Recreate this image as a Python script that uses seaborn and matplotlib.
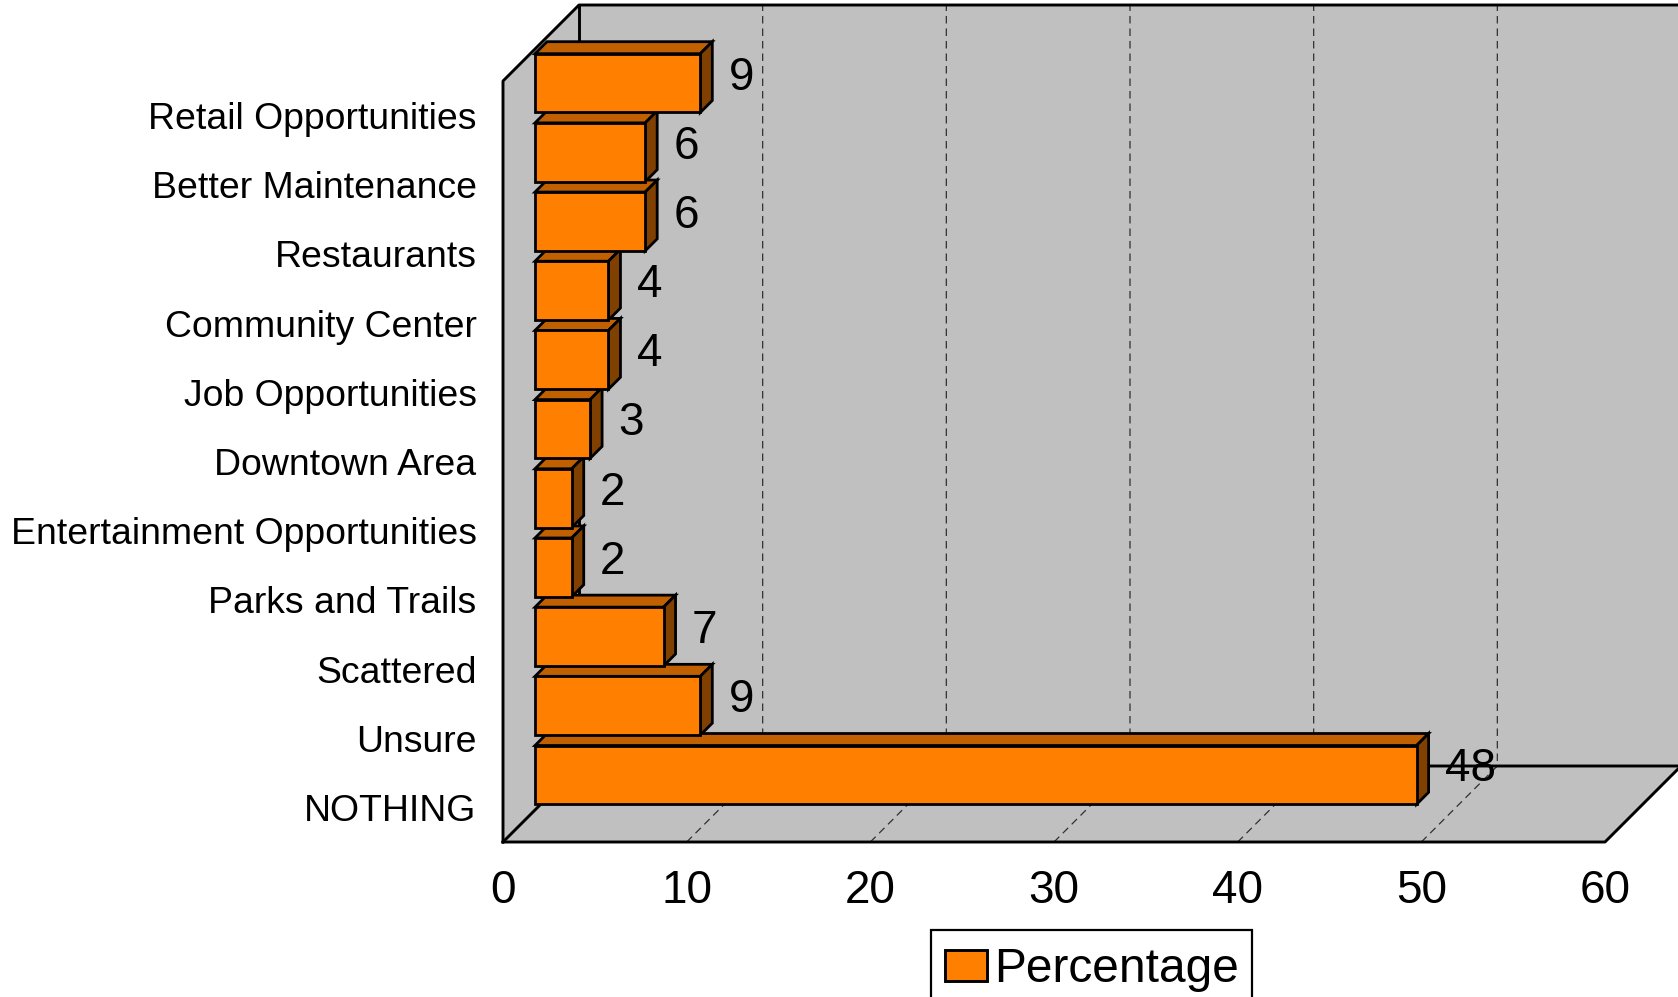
import matplotlib
matplotlib.use("Agg")
import matplotlib.pyplot as plt
import numpy as np
import pandas as pd
import seaborn as sns
from matplotlib.patches import Patch, Polygon, Rectangle

# ================= DATA =================
categories = ['Retail Opportunities', 'Better Maintenance', 'Restaurants', 'Community Center',
              'Job Opportunities', 'Downtown Area', 'Entertainment Opportunities', 'Parks and Trails',
              'Scattered', 'Unsure', 'NOTHING']
percentages = [9, 6, 6, 4, 4, 3, 2, 2, 7, 9, 48]
x_ticks = [0, 10, 20, 30, 40, 50, 60]

# colours of the fake 3D boxes
FRONT = '#FF8000'
TOP = '#C06000'
SIDE = '#804000'
WALL = '#C0C0C0'

sns.set_style("white")
plt.rcParams['font.family'] = ['Liberation Sans', 'DejaVu Sans']
plt.rcParams['text.color'] = 'black'
plt.rcParams['xtick.color'] = 'black'
plt.rcParams['ytick.color'] = 'black'

W, H = 1678, 997
fig = plt.figure(figsize=(W / 100, H / 100), dpi=100)
# front plane of the chart box, in pixels from the top left
ax = fig.add_axes([503 / W, (H - 842) / H, 1102 / W, 761 / H])

df = pd.DataFrame({'category': categories, 'Percentage': percentages})
sns.barplot(data=df, y='category', x='Percentage', color=FRONT, saturation=1, width=0.85,
            edgecolor='black', linewidth=2.0, orient='h', zorder=6, ax=ax)

ax.set_xlim(0, 60)
ax.set_ylim(len(categories) - 0.5, -0.5)

# pixels to data units, depth goes right and up
ux = 60 / 1102
uy = len(categories) / 761


def depth(x, y, px):
    return (x + px * ux, y - px * uy)


# ---- walls and floor ----
y_top, y_bot = ax.get_ylim()[1], ax.get_ylim()[0]
wall_depth = 76
wall_kw = dict(facecolor=WALL, edgecolor='none', clip_on=False, zorder=1)
ax.add_patch(Polygon([depth(0, y_top, wall_depth), depth(64, y_top, wall_depth),
                      depth(64, y_bot, wall_depth), depth(0, y_bot, wall_depth)], **wall_kw))
ax.add_patch(Polygon([(0, y_top), depth(0, y_top, wall_depth), depth(0, y_bot, wall_depth), (0, y_bot)], **wall_kw))
ax.add_patch(Polygon([(0, y_bot), depth(0, y_bot, wall_depth), depth(60, y_bot, wall_depth), (60, y_bot)], **wall_kw))

# dashed grid on floor and back wall
for t in x_ticks[1:-1]:
    bx, by = depth(t, y_bot, wall_depth)
    tx, ty = depth(t, y_top, wall_depth)
    ax.plot([t, bx, tx], [y_bot, by, ty], color='#303030', lw=0.9, ls=(0, (6, 4)), clip_on=False, zorder=2)

# solid outline of the box
line_kw = dict(color='black', lw=2.1, clip_on=False, zorder=3, solid_capstyle='projecting')
outline = [(0, y_bot), (0, y_top), depth(0, y_top, wall_depth), depth(64, y_top, wall_depth)]
ax.plot(*zip(*outline), **line_kw)
ax.plot(*zip((0, y_bot), (60, y_bot), depth(60, y_bot, wall_depth)), **line_kw)
ax.plot(*zip((0, y_bot), depth(0, y_bot, wall_depth), depth(60, y_bot, wall_depth)), **line_kw)
ax.plot(*zip(depth(0, y_top, wall_depth), depth(0, y_bot, wall_depth)), **line_kw)

# ---- boxes ----
bar_shift = 32.5
box_depth = 12
for bar, val in zip(ax.patches, percentages):
    bar.set_x(bar.get_x() + 32 * ux)
    bar.set_y(bar.get_y() - bar_shift * uy)
    bar.set_clip_on(False)
    x0, x1 = bar.get_x(), bar.get_x() + bar.get_width()
    y0, y1 = bar.get_y(), bar.get_y() + bar.get_height()
    box_kw = dict(edgecolor='black', linewidth=2.0, joinstyle='miter', clip_on=False, zorder=5)
    ax.add_patch(Polygon([(x0, y0), depth(x0, y0, box_depth), depth(x1, y0, box_depth), (x1, y0)],
                         facecolor=TOP, **box_kw))
    ax.add_patch(Polygon([(x1, y0), depth(x1, y0, box_depth), depth(x1, y1, box_depth), (x1, y1)],
                         facecolor=SIDE, **box_kw))
    ax.annotate(str(val), xy=(x1, (y0 + y1) / 2), xytext=(20.5, 4), textcoords='offset points',
                fontsize=33, va='center', ha='left', color='black', zorder=7, annotation_clip=False)

# ---- axes text ----
ax.set_xlabel('')
ax.set_ylabel('')
ax.set_xticks(x_ticks)
ax.tick_params(axis='x', length=0, pad=19.5, labelsize=33)
ax.tick_params(axis='y', length=0, pad=19, labelsize=26.9)
sns.despine(ax=ax, left=True, bottom=True)
ax.patch.set_alpha(0)

# legend box runs off the bottom of the canvas like the original
fig.add_artist(Rectangle((931 / W, (H - 1010) / H), 321 / W, 80 / H, transform=fig.transFigure,
                         facecolor='white', edgecolor='black', linewidth=1.6, zorder=1))
legend_handle = Patch(facecolor=FRONT, edgecolor='black', linewidth=2.1, label='Percentage')
fig.legend(handles=[legend_handle], loc='upper left', bbox_to_anchor=(931 / W, (H - 933) / H),
           bbox_transform=fig.transFigure, borderaxespad=0, fontsize=34.5, frameon=False,
           handlelength=0.87, handleheight=0.6, handletextpad=0.15, borderpad=0.3)

fig.savefig('out.png', dpi=100, facecolor='white')
